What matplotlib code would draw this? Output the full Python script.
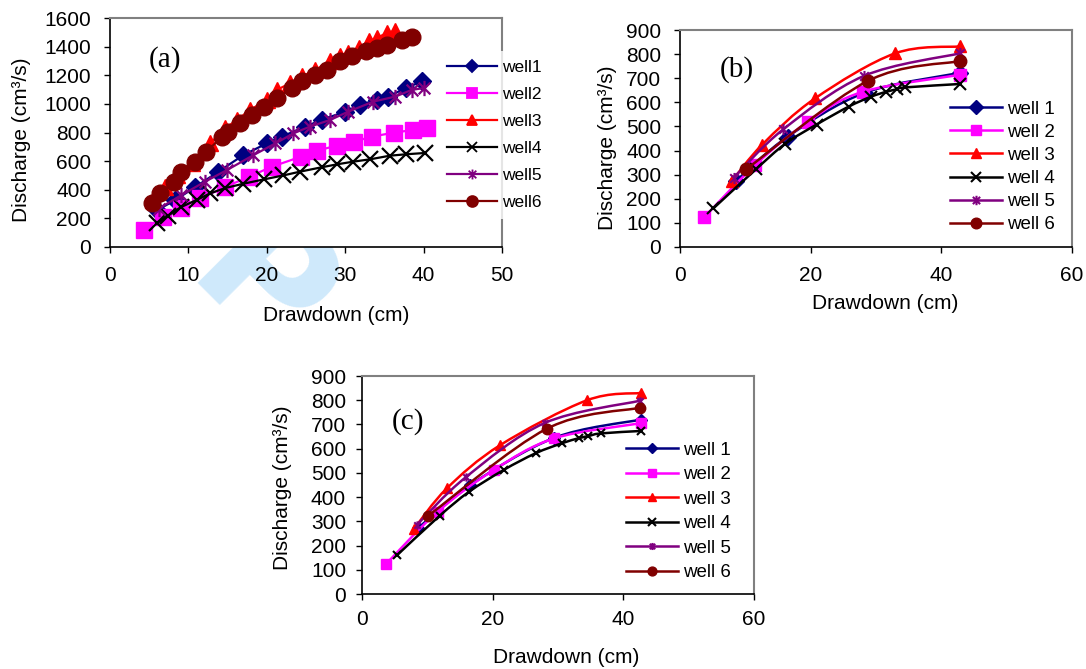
import numpy as np
import matplotlib
matplotlib.use('Agg')
import matplotlib.pyplot as plt
from matplotlib.path import Path
from matplotlib.patches import PathPatch, Rectangle
from matplotlib.lines import Line2D

plt.rcParams['font.family'] = ['Liberation Sans', 'DejaVu Sans']

# ---- data ----
labels_a = ['well1', 'well2', 'well3', 'well4', 'well5', 'well6']
labels_bc = ['well 1', 'well 2', 'well 3', 'well 4', 'well 5', 'well 6']

# panel (a)
a_w1_x = [6.0, 8.3, 10.9, 13.8, 17.0, 20.0, 21.9, 24.9, 27.0, 30.0, 31.9, 34.0, 35.5, 37.7, 39.8]
a_w1_y = [257, 327, 420, 525, 642, 724, 771, 841, 888, 946, 993, 1028, 1051, 1110, 1157]
a_w2_x = [4.3, 6.8, 9.1, 11.5, 14.7, 17.7, 20.6, 24.3, 26.4, 28.9, 31.1, 33.4, 36.2, 38.7, 40.4]
a_w2_y = [121, 212, 275, 339, 420, 490, 560, 630, 673, 708, 736, 771, 799, 818, 829]
a_w3_x = [5.5, 7.0, 8.5, 10.4, 12.8, 14.7, 16.2, 17.9, 20.0, 21.3, 23.0, 24.5, 26.2, 28.1,
          29.4, 30.4, 31.7, 33.0, 34.0, 35.3, 36.4]
a_w3_y = [327, 420, 502, 584, 724, 829, 888, 958, 1028, 1098, 1145, 1192, 1238, 1297,
          1332, 1355, 1390, 1437, 1460, 1495, 1510]
a_w4_x = [6.0, 7.4, 9.1, 11.1, 12.8, 14.7, 17.0, 19.6, 22.1, 24.2, 27.0, 29.0, 31.0, 33.2,
          35.7, 37.8, 40.2]
a_w4_y = [166, 220, 280, 330, 375, 412, 442, 472, 500, 526, 557, 578, 596, 613, 638, 648, 657]
a_w5_x = [6.2, 9.1, 12.1, 14.9, 18.3, 21.1, 23.4, 25.5, 28.1, 30.4, 33.6, 36.4, 38.5, 40.0]
a_w5_y = [268, 362, 456, 537, 642, 724, 794, 841, 888, 946, 1016, 1051, 1098, 1110]
a_w6_x = [5.3, 6.4, 8.1, 9.1, 10.9, 12.3, 14.3, 15.1, 16.6, 18.1, 19.6, 21.3, 23.2, 24.5,
          26.2, 27.7, 29.4, 30.9, 32.6, 34.0, 35.3, 37.2, 38.5]
a_w6_y = [304, 374, 456, 526, 596, 666, 771, 806, 864, 923, 981, 1040, 1110, 1157, 1203,
          1238, 1297, 1332, 1367, 1390, 1414, 1444, 1467]

# panel (b)
b_w1_x = [8.5, 16.5, 28.3, 42.8]
b_w1_y = [272, 458, 640, 722]
b_w2_x = [3.7, 11.5, 19.6, 28.0, 42.8]
b_w2_y = [123, 340, 520, 644, 714]
b_w3_x = [7.9, 12.6, 20.7, 32.9, 42.8]
b_w3_y = [272, 425, 617, 803, 832]
b_w4_x = [5.1, 11.6, 16.1, 20.9, 25.8, 29.2, 31.6, 33.2, 34.5, 42.8]
b_w4_y = [160, 322, 428, 508, 582, 623, 644, 654, 662, 676]
b_w5_x = [8.2, 15.8, 28.1, 42.8]
b_w5_y = [287, 488, 709, 803]
b_w6_x = [10.1, 28.7, 42.8]
b_w6_y = [322, 688, 771]

# panel (c)
c_w1_x = [8.6, 16.6, 29.5, 42.7]
c_w1_y = [272, 450, 645, 720]
c_w2_x = [3.7, 11.6, 20.2, 29.5, 42.7]
c_w2_y = [124, 340, 512, 643, 705]
c_w3_x = [8.0, 13.0, 21.2, 34.5, 42.7]
c_w3_y = [270, 436, 615, 800, 830]
c_w4_x = [5.4, 11.9, 16.4, 21.7, 26.6, 30.6, 33.2, 34.7, 36.6, 42.7]
c_w4_y = [161, 323, 422, 512, 581, 622, 643, 652, 663, 673]
c_w5_x = [8.4, 15.9, 28.0, 42.6]
c_w5_y = [285, 482, 706, 798]
c_w6_x = [10.1, 28.3, 42.6]
c_w6_y = [322, 682, 769]

colors = ['#000080', '#FF00FF', '#FF0000', '#000000', '#800080', '#800000']

# excel style "star": an x with a vertical bar
star = Path([(-1, -1), (1, 1), (-1, 1), (1, -1), (0, -1.3), (0, 1.3)],
            [Path.MOVETO, Path.LINETO, Path.MOVETO, Path.LINETO, Path.MOVETO, Path.LINETO])
markers = ['D', 's', '^', 'x', star, 'o']


def smooth_path(x, y):
    # bezier curve through the points (catmull-rom style), like excel's smoothed line
    pts = np.column_stack([x, y]).astype(float)
    n = len(pts)
    verts = [pts[0]]
    codes = [Path.MOVETO]
    for i in range(n - 1):
        p0 = pts[i - 1] if i > 0 else pts[i]
        p1 = pts[i]
        p2 = pts[i + 1]
        p3 = pts[i + 2] if i + 2 < n else pts[i + 1]
        verts += [p1 + (p2 - p0) / 6.0, p2 - (p3 - p1) / 6.0, p2]
        codes += [Path.CURVE4] * 3
    return Path(verts, codes)


def style_axes(ax, xmax, xstep, ymax, ystep, pad):
    ax.set_xlim(0, xmax)
    ax.set_ylim(0, ymax)
    ax.set_xticks(np.arange(0, xmax + 1, xstep))
    ax.set_yticks(np.arange(0, ymax + 1, ystep))
    for s in ['top', 'right']:
        ax.spines[s].set_color('#808080')
        ax.spines[s].set_linewidth(1.5)
    for s in ['left', 'bottom']:
        ax.spines[s].set_linewidth(1.2)
    ax.tick_params(direction='out', length=4.5, width=1.0, labelsize=15, pad=pad)


fig = plt.figure(figsize=(10.86, 6.69), dpi=100)
W, H = 1086.0, 669.0


def px_axes(l, t, r, b):
    return fig.add_axes([l / W, 1 - b / H, (r - l) / W, (b - t) / H])


# faint watermark letter behind panel (a)
wm = fig.text(258 / W, 1 - 292 / H, 'P', fontsize=120, fontweight='bold', color='#cfe9fb',
              rotation=-45, ha='center', va='center', family='DejaVu Sans', zorder=-1)
wm.set_clip_path(Rectangle((0, 1 - 330 / H), 1, 95 / H, transform=fig.transFigure))

# ---------- panel (a) ----------
ax = px_axes(110, 18, 502, 247)
style_axes(ax, 50, 10, 1600, 200, 9)
series_a = [(a_w1_x, a_w1_y), (a_w2_x, a_w2_y), (a_w3_x, a_w3_y),
            (a_w4_x, a_w4_y), (a_w5_x, a_w5_y), (a_w6_x, a_w6_y)]
ms_a = [9, 11, 11, 11, 11, 12]
handles = []
for i, (x, y) in enumerate(series_a):
    ax.plot(x, y, color=colors[i], lw=1.6, marker=markers[i], ms=ms_a[i],
            mew=1.6 if i in (3, 4) else 1, zorder=3 + i, clip_on=False)
    handles.append(Line2D([], [], color=colors[i], lw=1.6, marker=markers[i],
                          ms=ms_a[i] * 0.65, mew=1.3))
ax.set_ylabel('Discharge (cm³/s)', fontsize=15, va='center')
ax.yaxis.set_label_coords(-0.2245, 0.47)
ax.set_xlabel('Drawdown (cm)', fontsize=15, va='center')
ax.xaxis.set_label_coords(0.577, -0.297)
ax.text(0.14, 0.817, '(a)', transform=ax.transAxes, fontsize=21,
        family='Liberation Serif', ha='center', va='center')
leg = fig.legend(handles, labels_a, loc='center left',
                 bbox_to_anchor=((447 - 8.7) / W, 1 - 135 / H), fontsize=12.5,
                 handlelength=2.9, handletextpad=0.25, labelspacing=0.68,
                 borderpad=0.5, borderaxespad=0, frameon=True, fancybox=False)
leg.get_frame().set_edgecolor('none')
leg.get_frame().set_facecolor('white')
leg.set_zorder(10)


def panel_bc(box, series, lab, pos_lab, ylab_xy, xlab_xy, leg_x, leg_y, ms, pad, legfs, lsp):
    ax = px_axes(*box)
    style_axes(ax, 60, 20, 900, 100, pad)
    handles = []
    for i, (x, y) in enumerate(series):
        ax.add_patch(PathPatch(smooth_path(x, y), fill=False, edgecolor=colors[i],
                               lw=1.8, zorder=3 + i))
        ax.plot(x, y, ls='none', marker=markers[i], ms=ms[i], color=colors[i],
                mew=1.5 if i in (3, 4) else 1, zorder=3 + i, clip_on=False)
        handles.append(Line2D([], [], color=colors[i], lw=1.8, marker=markers[i],
                              ms=ms[i] * 0.85, mew=1.5 if i in (3, 4) else 1))
    ax.set_ylabel('Discharge (cm³/s)', fontsize=15, va='center')
    ax.yaxis.set_label_coords(*ylab_xy)
    ax.set_xlabel('Drawdown (cm)', fontsize=15, va='center')
    ax.xaxis.set_label_coords(*xlab_xy)
    ax.text(pos_lab[0], pos_lab[1], lab, transform=ax.transAxes, fontsize=21,
            family='Liberation Serif', ha='center', va='center')
    fig.legend(handles, labels_bc, loc='center left',
               bbox_to_anchor=((leg_x - 5.6) / W, 1 - leg_y / H), fontsize=legfs,
               handlelength=2.75, handletextpad=0.28, labelspacing=lsp,
               borderpad=0.3, borderaxespad=0, frameon=False)
    return ax


series_b = [(b_w1_x, b_w1_y), (b_w2_x, b_w2_y), (b_w3_x, b_w3_y),
            (b_w4_x, b_w4_y), (b_w5_x, b_w5_y), (b_w6_x, b_w6_y)]
series_c = [(c_w1_x, c_w1_y), (c_w2_x, c_w2_y), (c_w3_x, c_w3_y),
            (c_w4_x, c_w4_y), (c_w5_x, c_w5_y), (c_w6_x, c_w6_y)]

panel_bc((680, 30, 1072, 247), series_b, '(b)', (0.145, 0.816), (-0.186, 0.456),
         (0.523, -0.26), 950, 167, [8, 9, 9, 8, 8, 9], 9, 13.5, 0.32)
panel_bc((362, 376, 753.5, 594), series_c, '(c)', (0.118, 0.79), (-0.204, 0.486),
         (0.522, -0.289), 626, 511.5, [6, 7, 7, 6, 6, 7.5], 7, 13.5, 0.39)

fig.savefig('out.png', dpi=100, facecolor='white')
